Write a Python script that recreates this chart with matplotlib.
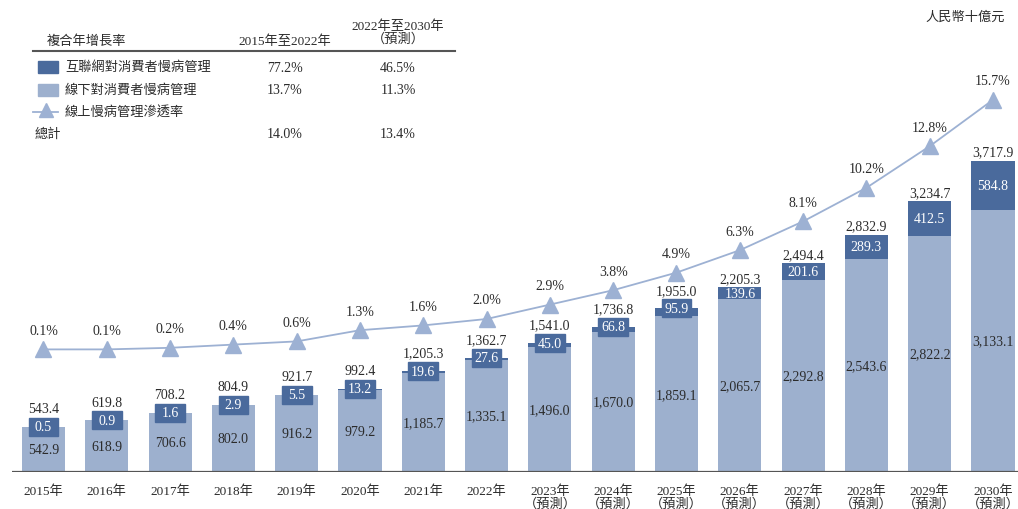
import matplotlib
matplotlib.use("Agg")
import matplotlib.pyplot as plt
from matplotlib.patches import Rectangle
from matplotlib.lines import Line2D
import numpy as np

plt.rcParams['font.family'] = ['Liberation Serif', 'Noto Sans CJK TC']

# data (RMB billion)
years = ['2015', '2016', '2017', '2018', '2019', '2020', '2021', '2022',
         '2023', '2024', '2025', '2026', '2027', '2028', '2029', '2030']
forecast = [False] * 8 + [True] * 8
offline = [542.9, 618.9, 706.6, 802.0, 916.2, 979.2, 1185.7, 1335.1,
           1496.0, 1670.0, 1859.1, 2065.7, 2292.8, 2543.6, 2822.2, 3133.1]
online = [0.5, 0.9, 1.6, 2.9, 5.5, 13.2, 19.6, 27.6,
          45.0, 66.8, 95.9, 139.6, 201.6, 289.3, 412.5, 584.8]
total = [543.4, 619.8, 708.2, 804.9, 921.7, 992.4, 1205.3, 1362.7,
         1541.0, 1736.8, 1955.0, 2205.3, 2494.4, 2832.9, 3234.7, 3717.9]
penetration = [0.1, 0.1, 0.2, 0.4, 0.6, 1.3, 1.6, 2.0,
               2.9, 3.8, 4.9, 6.3, 8.1, 10.2, 12.8, 15.7]

legend_names = ['互聯網對消費者慢病管理', '線下對消費者慢病管理', '線上慢病管理滲透率', '總計']
cagr_hist = ['77.2%', '13.7%', '', '14.0%']
cagr_fcst = ['46.5%', '11.3%', '', '13.4%']

dark = '#4a6a9c'
light = '#9db0ce'
line_c = '#9db1d3'
txt = '#2b2b2b'

W, H = 1018, 510
fig = plt.figure(figsize=(W / 100, H / 100), dpi=100)


def fx(px):
    return px / W


def fy(py):
    return 1 - py / H


ax = fig.add_axes([fx(12), fy(473), fx(1018) - fx(12), fy(0) - fy(473)])
x = np.arange(len(years))
bw = 0.68
ax.bar(x, offline, bw, color=light, zorder=2)
ax.bar(x, online, bw, bottom=offline, color=dark, zorder=2)
ax.set_xlim(-31.5 / 63.3, 15 + 25 / 63.3)
ax.set_ylim(0, 473 / 0.0837)

# small online values get a fixed-size dark label box on the bar top
box_w, box_h = 0.47, 215
for i in x:
    ax.text(i, offline[i] / 2, f'{offline[i]:,.1f}', ha='center', va='center',
            fontsize=10, color=txt, zorder=4)
    if online[i] < 100:
        ax.add_patch(Rectangle((i - box_w / 2, total[i] - box_h / 2), box_w, box_h,
                               color=dark, zorder=3))
        ax.text(i, total[i], f'{online[i]:,.1f}', ha='center', va='center',
                fontsize=10, color='white', zorder=4)
        off = 18
    else:
        ax.text(i, offline[i] + online[i] / 2, f'{online[i]:,.1f}', ha='center',
                va='center', fontsize=10, color='white', zorder=4)
        off = 9
    ax.annotate(f'{total[i]:,.1f}', (i, total[i]), xytext=(0, off),
                textcoords='offset pixels', ha='center', va='center',
                fontsize=10, color=txt, zorder=4)

ax.axhline(0, color='#555555', lw=1.6, zorder=3)
labels = [f'{y}年\n（預測）' if f else f'{y}年' for y, f in zip(years, forecast)]
ax.set_xticks(x)
ax.set_xticklabels(labels, fontsize=9.5, color=txt, va='top', linespacing=1.0)
ax.tick_params(axis='x', length=0, pad=9)
ax.set_yticks([])
for s in ax.spines.values():
    s.set_visible(False)
ax.patch.set_alpha(0)

ax2 = ax.twinx()
ax2.set_ylim(-121 / 16, 352 / 16)
ax2.plot(x, penetration, color=line_c, lw=1.3, marker='^', markersize=11,
         markerfacecolor=line_c, markeredgecolor=line_c, zorder=5)
for i in x:
    ax2.annotate(f'{penetration[i]:.1f}%', (i, penetration[i]), xytext=(0, 19),
                 textcoords='offset pixels', ha='center', va='center',
                 fontsize=10, color=txt)
ax2.set_yticks([])
for s in ax2.spines.values():
    s.set_visible(False)

# unit
fig.text(fx(1005), fy(18), '人民幣十億元', ha='right', va='center', fontsize=9.5,
         color=txt, style='italic')

# CAGR table / legend
fig.text(fx(47), fy(42), '複合年增長率', ha='left', va='center', fontsize=9.5, color=txt)
fig.text(fx(285), fy(42), '2015年至2022年', ha='center', va='center', fontsize=9.5, color=txt)
fig.text(fx(398), fy(33), '2022年至2030年\n（預測）', ha='center', va='center',
         fontsize=9.5, color=txt, linespacing=1.1)
fig.add_artist(Line2D([fx(33), fx(455)], [fy(52), fy(52)], color='#555555', lw=1.5))

rows_y = [68, 91, 113, 135]
fig.add_artist(Rectangle((fx(38), fy(74)), fx(20), fy(62) - fy(74), color=dark))
fig.add_artist(Rectangle((fx(38), fy(97)), fx(20), fy(85) - fy(97), color=light))
fig.add_artist(Line2D([fx(33), fx(58)], [fy(113), fy(113)], color=line_c, lw=1.3))
fig.add_artist(Line2D([fx(45.5)], [fy(111)], color=line_c, marker='^', markersize=10))
for k, name in enumerate(legend_names):
    xpos = 35 if k == 3 else 65
    fig.text(fx(xpos), fy(rows_y[k]), name, ha='left', va='center', fontsize=9.5, color=txt)
    if cagr_hist[k]:
        fig.text(fx(285), fy(rows_y[k]), cagr_hist[k], ha='center', va='center',
                 fontsize=10, color=txt)
        fig.text(fx(398), fy(rows_y[k]), cagr_fcst[k], ha='center', va='center',
                 fontsize=10, color=txt)

fig.savefig('out.png', dpi=100)
